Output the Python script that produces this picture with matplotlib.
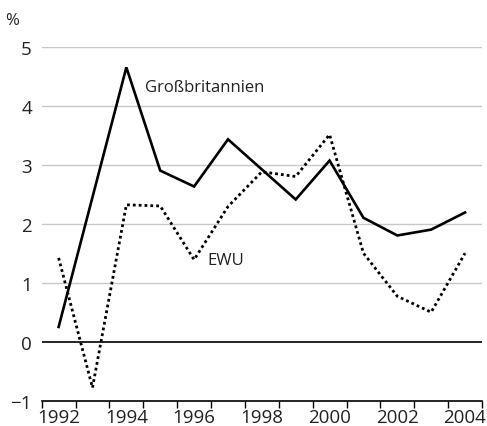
import numpy as np
import matplotlib
matplotlib.use('Agg')
import matplotlib.pyplot as plt

plt.rcParams['font.family'] = ['Open Sans', 'DejaVu Sans']

years = [1992, 1993, 1994, 1995, 1996, 1997, 1998, 1999, 2000, 2001, 2002, 2003, 2004]
gb = [0.25, 2.45, 4.65, 2.90, 2.63, 3.43, 2.92, 2.41, 3.07, 2.10, 1.80, 1.90, 2.19]
ewu = [1.42, -0.78, 2.32, 2.30, 1.39, 2.29, 2.88, 2.80, 3.51, 1.50, 0.77, 0.50, 1.50]
year_labels = [1992, 1994, 1996, 1998, 2000, 2002, 2004]
y_ticks = [-1, 0, 1, 2, 3, 4, 5]

fig = plt.figure(figsize=(4.87, 4.27), dpi=100)
ax = fig.add_axes([0.0856, 0.0593, 0.9041, 0.829])

# grid lines
for v in y_ticks[2:]:
    ax.axhline(v, color='#c8c8c8', linewidth=1.0, zorder=1)
ax.axhline(0, color='black', linewidth=1.2, zorder=2)

ax.plot(years, gb, color='black', linewidth=1.9, solid_joinstyle='miter', zorder=3)
ax.plot(years, ewu, color='black', linewidth=2.0, linestyle=(0, (1, 1.1)), zorder=3)

ax.set_xlim(1991.5, 2004.5)
ax.set_ylim(-1, 5)

ax.set_xticks(year_labels)
ax.set_xticklabels([str(y) for y in year_labels])
ax.set_xticks(np.arange(1991.5, 2005, 1.0), minor=True)
ax.tick_params(axis='x', which='major', length=0, pad=5, labelsize=13.5, colors='#222222')
ax.tick_params(axis='x', which='minor', length=5, width=1, color='black', direction='out')

ax.set_yticks(y_ticks)
ax.set_yticklabels(['\u22121' if v < 0 else str(v) for v in y_ticks])
ax.tick_params(axis='y', length=0, pad=7, labelsize=13.5, colors='#222222')

for s in ['top', 'right', 'left']:
    ax.spines[s].set_visible(False)
ax.spines['bottom'].set_linewidth(1.2)

ax.text(1994.54, 4.32, 'Großbritannien', fontsize=12, color='#222222', va='center', ha='left')
ax.text(1996.4, 1.39, 'EWU', fontsize=12, color='#222222', va='center', ha='left')
fig.text(0.011, 0.951, '%', fontsize=12, color='#222222', va='center', ha='left')

fig.savefig('out.png', dpi=100)
